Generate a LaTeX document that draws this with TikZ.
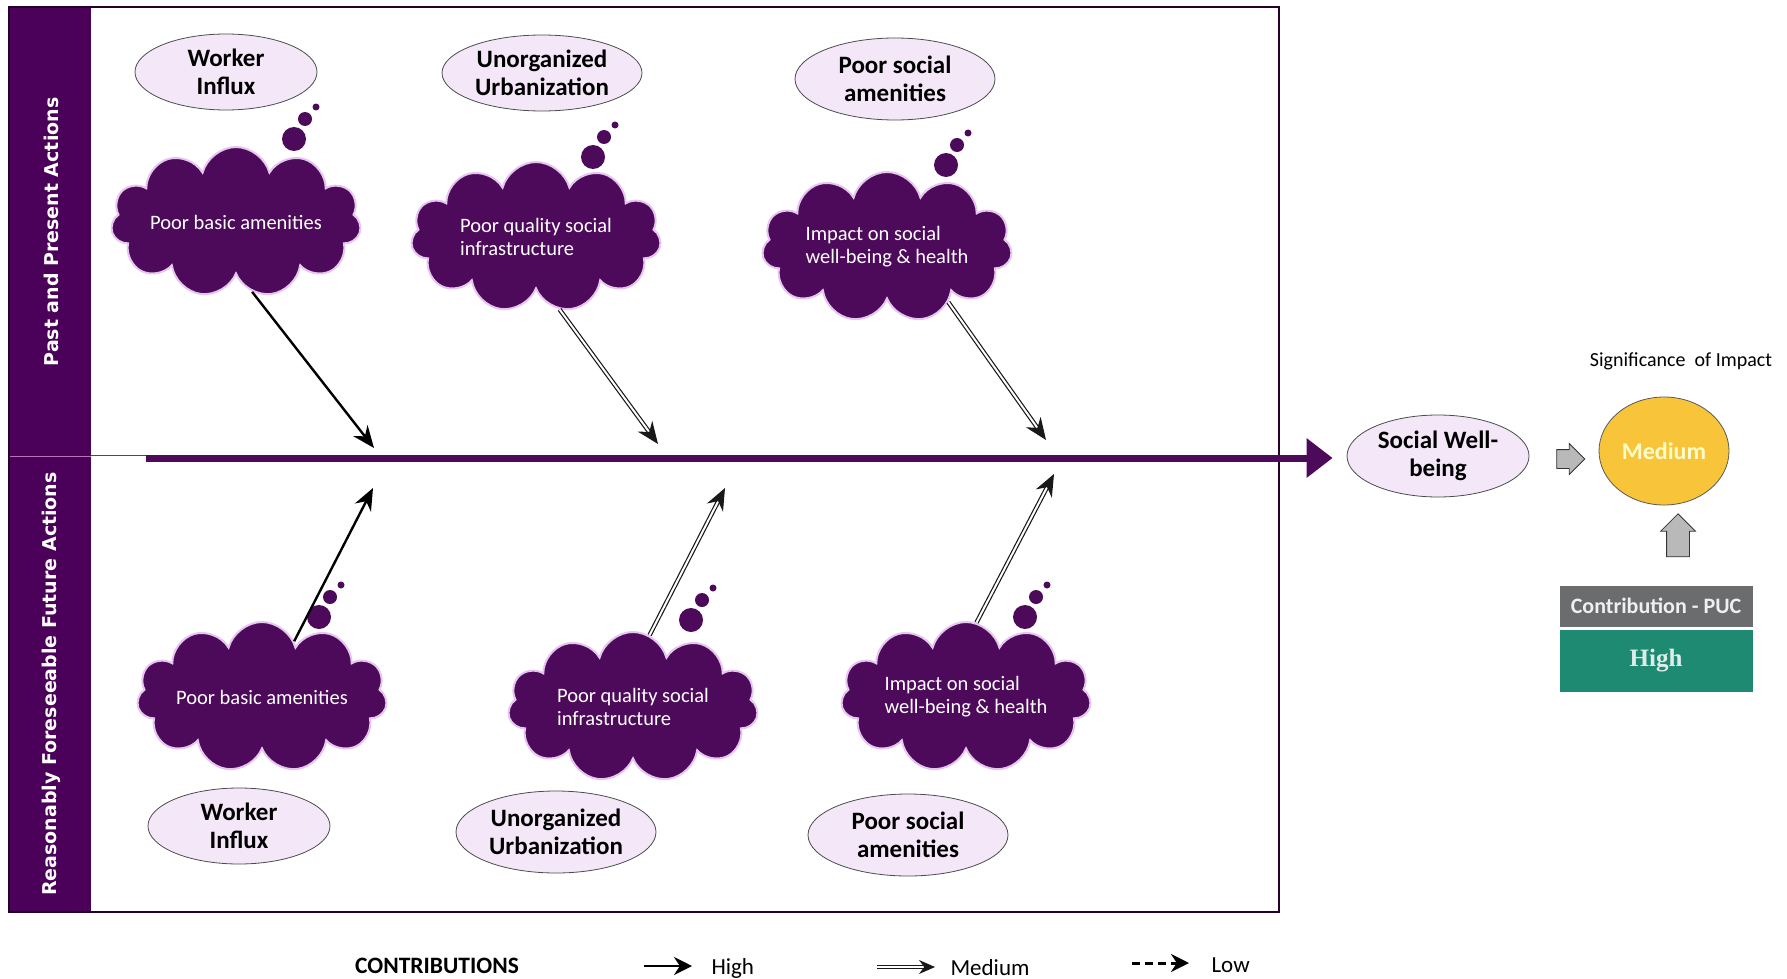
\documentclass[tikz,border=0pt]{standalone}
\usepackage{fontspec}
\setmainfont{Carlito}
\newfontfamily\bandfont{DejaVu Sans}
\newfontfamily\highfont{Liberation Serif}
\usetikzlibrary{shapes.symbols,shapes.arrows,shapes.geometric,arrows.meta}

\definecolor{bandpurple}{HTML}{4B0059}
\definecolor{cloudpurple}{HTML}{4E0A5A}
\definecolor{glow}{HTML}{E6C6F0}
\definecolor{ovalfill}{HTML}{F3E7F8}
\definecolor{sigyellow}{HTML}{F8C53A}
\definecolor{pucgrey}{HTML}{6B6C6E}
\definecolor{highteal}{HTML}{1F8A72}

\begin{document}
\begin{tikzpicture}[x=1pt,y=-1pt,
  oval/.style={ellipse,draw=black!70,fill=ovalfill,line width=.8pt,inner sep=0pt,
    minimum width=182pt,minimum height=76pt,align=center,
    font=\fontsize{25}{28}\selectfont\bfseries},
  puff/.style={cloud,cloud puffs=11,cloud ignores aspect,fill=cloudpurple,draw=glow,line width=2pt,
    minimum width=250pt,minimum height=150pt,text=white,align=left,
    font=\fontsize{20.5}{23}\selectfont},
  bubble/.style={fill=cloudpurple},
  high/.style={line width=2.4pt,-{Stealth[length=22pt,width=18pt]}},
  medium/.style={draw=black!90,double=white,double distance=2pt,line width=1.2pt,
    -{Stealth[length=22pt,width=18pt]}},
  greyarrow/.style={single arrow,fill=gray!55,draw=gray!40!black,line width=.8pt,
    single arrow head extend=6pt,inner xsep=0pt}
]
\useasboundingbox (0,0) rectangle (1787,979);

% left bands and frame
\fill[bandpurple] (9,7) rectangle (91,456);
\fill[bandpurple] (9,456) rectangle (91,912);
\draw[violet!55,line width=1pt] (9,456) -- (91,456);
\draw[black!70,line width=1pt] (91,455) -- (1279,455);
\draw[black!70!violet,line width=1.2pt] (9,7) rectangle (1279,912);
\node[rotate=90,text=white,font=\bandfont\bfseries\fontsize{19}{22}\selectfont] (pp) at (51,232) {Past and Present Actions};
\node[rotate=90,text=white,font=\bandfont\bfseries\fontsize{19}{22}\selectfont] (rf) at (51,684) {Reasonably Foreseeable Future Actions};

% past and present row
\node[oval] (wi1) at (226,72) {Worker\\Influx};
\node[oval,minimum width=200pt] (uu1) at (542,73) {Unorganized\\Urbanization};
\node[oval,minimum width=200pt,minimum height=82pt] (ps1) at (895,79) {Poor social\\amenities};
\node[puff] (c1) at (236,222) {Poor basic amenities};
\node[puff] (c2) at (536,237) {Poor quality social\\infrastructure};
\node[puff] (c3) at (887,247) {Impact on social\\well-being \& health};

% future row
\node[puff] (c4) at (262,697) {Poor basic amenities};
\node[puff] (c5) at (633,707) {Poor quality social\\infrastructure};
\node[puff] (c6) at (966,697) {Impact on social\\well-being \& health};
\node[oval] (wi2) at (239,826) {Worker\\Influx};
\node[oval,minimum width=200pt,minimum height=82pt] (uu2) at (556,832) {Unorganized\\Urbanization};
\node[oval,minimum width=200pt,minimum height=82pt] (ps2) at (908,835) {Poor social\\amenities};

% thought bubbles
\foreach \cx/\cy in {294/139,593/157,946/165,319/617,691/620,1025/617}{
  \fill[bubble] (\cx,\cy) circle (12pt);
  \fill[bubble] (\cx,\cy) ++(11,-20) circle (7pt);
  \fill[bubble] (\cx,\cy) ++(22,-32) circle (3.5pt);
}

% contributions to the axis
\coordinate (t1) at (374,448);
\coordinate (t2) at (658,444);
\coordinate (t3) at (1046,440);
\coordinate (b1) at (373,488);
\coordinate (b2) at (725,488);
\coordinate (b3) at (1054,474);
\draw[high] (c1.-77) -- (t1);
\draw[medium] (c2.-72) -- (t2);
\draw[medium] (c3.-42) -- (t3);
\draw[high] (c4.60) -- (b1);
\draw[medium] (c5.77) -- (b2);
\draw[medium] (c6.82) -- (b3);

% main axis
\coordinate (axis) at (146,458);
\node[oval,minimum width=182pt,minimum height=82pt] (sw) at (1438,456) {Social Well-\\being};
\draw[cloudpurple,line width=7pt,-{Triangle[length=26pt,width=38pt]},shorten >=14pt] (axis) -- (axis -| sw.west);

% significance
\node[greyarrow,inner ysep=9pt,minimum height=28pt] (ga) at (1566,459) {};
\node[ellipse,fill=sigyellow,draw=gray!70!black,line width=.8pt,minimum width=130pt,minimum height=108pt,
  text=yellow!20,font=\fontsize{24}{28}\selectfont\bfseries] (sig) at (1664,451) {Medium};
\node[font=\fontsize{20}{24}\selectfont] (sigl) at (1681,361) {Significance\ \ of Impact};
\node[greyarrow,rotate=90,inner ysep=11pt,minimum height=43pt] (gu) at (1678,541) {};
\node[fill=pucgrey,minimum width=193pt,minimum height=41pt,text=white!88!gray,
  font=\fontsize{22}{26}\selectfont\bfseries] (puc) at (1656,606) {Contribution - PUC};
\node[fill=highteal,minimum width=193pt,minimum height=62pt,text=white!85!highteal,
  font=\highfont\bfseries\fontsize{25}{28}\selectfont] (hi) at (1656,661) {High};

% legend
\node[font=\fontsize{23.5}{26}\selectfont\bfseries] (leg) at (437,966) {CONTRIBUTIONS};
\coordinate (lh0) at (644,966);
\coordinate (lh1) at (692,966);
\coordinate (lm0) at (877,967);
\coordinate (lm1) at (935,967);
\coordinate (ll0) at (1132,963);
\coordinate (ll1) at (1189,963);
\draw[high,-{Stealth[length=18pt,width=18pt]}] (lh0) -- (lh1);
\draw[medium,-{Stealth[length=16pt,width=14pt]}] (lm0) -- (lm1);
\draw[line width=3pt,dash pattern=on 8pt off 5pt,-{Stealth[length=18pt,width=18pt]}] (ll0) -- (ll1);
\node[anchor=west,font=\fontsize{23}{26}\selectfont] (lhi) at (708,968) {High};
\node[anchor=west,font=\fontsize{23}{26}\selectfont] (lme) at (947,968) {Medium};
\node[anchor=west,font=\fontsize{23}{26}\selectfont] (llo) at (1208,965) {Low};
\end{tikzpicture}
\end{document}
